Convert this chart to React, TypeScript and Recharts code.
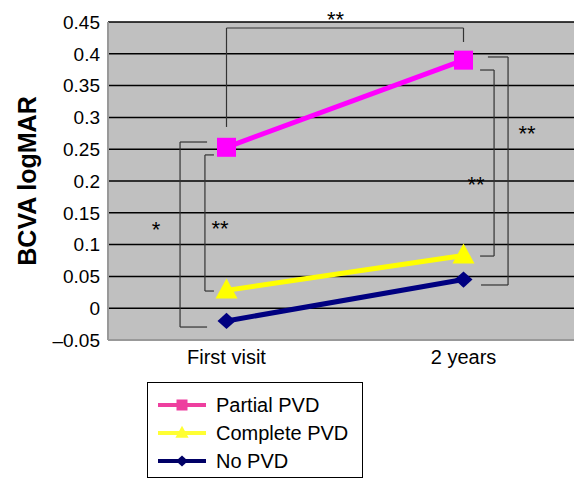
import {
  CartesianGrid,
  Legend,
  Line,
  LineChart,
  ReferenceDot,
  ReferenceLine,
  XAxis,
  YAxis
} from "recharts";

const categories = ["First visit", "2 years"];
const partialPvd = [0.253, 0.39];
const completePvd = [0.028, 0.083];
const noPvd = [-0.02, 0.045];
const yTicks = [-0.05, 0, 0.05, 0.1, 0.15, 0.2, 0.25, 0.3, 0.35, 0.4, 0.45];

// significance brackets, as polylines of [position, value]; position is 0..1 across the plot
const brackets: [number, number][][] = [
  [[0.25, 0.285], [0.25, 0.4406], [0.75, 0.4406], [0.75, 0.4186]],
  [[0.209, 0.2613], [0.152, 0.2613], [0.152, -0.0296], [0.209, -0.0296]],
  [[0.2235, 0.241], [0.2045, 0.241], [0.2045, 0.027], [0.2235, 0.027]],
  [[0.785, 0.3745], [0.8145, 0.3745], [0.8145, 0.082], [0.785, 0.082]],
  [[0.8015, 0.395], [0.844, 0.395], [0.844, 0.0365], [0.787, 0.0365]]
];
const stars: { x: number; y: number; text: string }[] = [
  { x: 0.48, y: 0.461, text: "**" },
  { x: 0.1015, y: 0.131, text: "*" },
  { x: 0.2365, y: 0.132, text: "**" },
  { x: 0.7765, y: 0.2016, text: "**" },
  { x: 0.884, y: 0.282, text: "**" }
];

const data = categories.map((name, i) => ({
  name,
  partial: partialPvd[i],
  complete: completePvd[i],
  none: noPvd[i]
}));

const series = [
  { key: "partial", label: "Partial PVD", color: "#ff00ff", legendColor: "#ee3f9f", shape: "square" },
  { key: "complete", label: "Complete PVD", color: "#ffff00", legendColor: "#ffff33", shape: "triangle" },
  { key: "none", label: "No PVD", color: "#000080", legendColor: "#000066", shape: "diamond" }
];

function Marker({ cx, cy, shape, color, size }: any) {
  if (cx == null || cy == null) return null;
  const s = size;
  if (shape === "square") {
    return <rect x={cx - s / 2} y={cy - s / 2} width={s} height={s} fill={color} />;
  }
  if (shape === "triangle") {
    return (
      <polygon
        points={`${cx},${cy - s * 0.6} ${cx + s * 0.55},${cy + s * 0.4} ${cx - s * 0.55},${cy + s * 0.4}`}
        fill={color}
      />
    );
  }
  return (
    <polygon
      points={`${cx},${cy - s * 0.45} ${cx + s * 0.5},${cy} ${cx},${cy + s * 0.45} ${cx - s * 0.5},${cy}`}
      fill={color}
    />
  );
}

function LegendBox() {
  return (
    <div
      style={{
        border: "1px solid #000",
        background: "#fff",
        width: 216,
        height: 96,
        boxSizing: "border-box",
        padding: "8px 0 0 10px",
        fontFamily: "'Liberation Sans', Arial, sans-serif",
        fontSize: 20
      }}
    >
      {series.map((s) => (
        <div key={s.key} style={{ display: "flex", alignItems: "center", height: 28 }}>
          <svg width={50} height={20} style={{ marginRight: 8 }}>
            <line x1={0} y1={10} x2={48} y2={10} stroke={s.legendColor} strokeWidth={4} />
            <Marker cx={24} cy={10} shape={s.shape} color={s.legendColor} size={s.shape === "square" ? 11 : 12} />
          </svg>
          <span>{s.label}</span>
        </div>
      ))}
    </div>
  );
}

function formatTick(v: number) {
  if (v < 0) return "\u2013" + String(Math.abs(v));
  return String(Number(v.toFixed(2)));
}

export default function App() {
  return (
    <div style={{ fontFamily: "'Liberation Sans', Arial, sans-serif" }}>
      <LineChart
        width={574}
        height={473}
        data={data}
        margin={{ top: 14, right: 0, left: 0, bottom: 101 }}
      >
        <CartesianGrid
          xAxisId="cat"
          vertical={false}
          stroke="#000"
          strokeWidth={1.5}
          fill="#c0c0c0"
          fillOpacity={1}
        />
        <XAxis
          xAxisId="cat"
          dataKey="name"
          scale="band"
          height={40}
          tickLine={false}
          axisLine={{ stroke: "#999", strokeWidth: 2 }}
          tick={{ fill: "#000", fontSize: 20 }}
          tickMargin={4}
        />
        <XAxis xAxisId="pos" type="number" domain={[0, 1]} allowDataOverflow hide />
        <YAxis
          width={100}
          domain={[-0.05, 0.45]}
          ticks={yTicks}
          interval={0}
          tickFormatter={formatTick}
          tickLine={false}
          axisLine={{ stroke: "#999", strokeWidth: 2 }}
          tick={{ fill: "#000", fontSize: 19 }}
          label={{
            content: (p: any) => {
              const vb = p.viewBox || { x: 0, y: 0, height: 0 };
              const x = vb.x + 19;
              const y = vb.y + vb.height / 2;
              return (
                <text
                  x={x}
                  y={y}
                  transform={`rotate(-90 ${x} ${y})`}
                  textAnchor="middle"
                  dominantBaseline="central"
                  fontSize={25}
                  fontWeight="bold"
                  fill="#000"
                >
                  BCVA logMAR
                </text>
              );
            }
          }}
        />
        {brackets.map((pts, bi) =>
          pts.slice(1).map((p, i) => (
            <ReferenceLine
              key={`b${bi}-${i}`}
              xAxisId="pos"
              segment={[
                { x: pts[i][0], y: pts[i][1] },
                { x: p[0], y: p[1] }
              ]}
              stroke="#333"
              strokeWidth={1.2}
              ifOverflow="visible"
            />
          ))
        )}
        {stars.map((s, i) => (
          <ReferenceDot
            key={`s${i}`}
            xAxisId="pos"
            x={s.x}
            y={s.y}
            r={0}
            ifOverflow="visible"
            shape={(p: any) => (
              <text x={p.cx} y={p.cy + 12} textAnchor="middle" fontSize={22} fill="#000">
                {s.text}
              </text>
            )}
          />
        ))}
        {series.map((s) => (
          <Line
            key={s.key}
            xAxisId="cat"
            type="linear"
            dataKey={s.key}
            name={s.label}
            stroke={s.color}
            strokeWidth={5}
            isAnimationActive={false}
            dot={(p: any) => (
              <Marker
                key={`${s.key}-${p.index}`}
                cx={p.cx}
                cy={p.cy}
                shape={s.shape}
                color={s.color}
                size={s.shape === "square" ? 19 : s.shape === "triangle" ? 20 : 18}
              />
            )}
            activeDot={false}
          />
        ))}
        <Legend
          layout="vertical"
          align="center"
          verticalAlign="middle"
          wrapperStyle={{ position: "absolute", left: 139, top: 374, width: 218, height: 98 }}
          content={() => <LegendBox />}
        />
      </LineChart>
    </div>
  );
}
